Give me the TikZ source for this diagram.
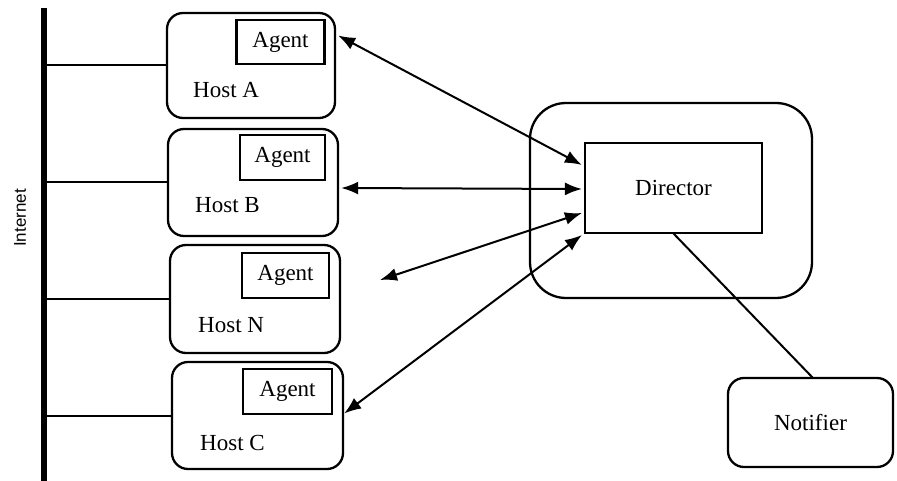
\documentclass[tikz,border=0pt]{standalone}
\usepackage{fontspec}
\setmainfont{Liberation Serif}
\newfontfamily\labelsans{Liberation Sans}
\usetikzlibrary{arrows.meta,calc}

\tikzset{
  hostbox/.style={draw, line width=2.3pt, rounded corners=16pt, inner sep=0pt},
  agentbox/.style={draw, line width=2.1pt, inner sep=0pt, minimum width=87pt, minimum height=45pt},
  plainbox/.style={draw, line width=2.1pt, inner sep=0pt},
  txt/.style={font=\fontsize{23}{26}\selectfont, inner sep=0pt},
  link/.style={line width=2pt},
  biarrow/.style={line width=2pt, {Latex[length=17pt,width=13pt]}-{Latex[length=17pt,width=13pt]}}
}

\begin{document}
\begin{tikzpicture}[x=1pt,y=-1pt]
  \useasboundingbox (0,0) rectangle (897,481);

  % backbone
  \coordinate (bartop) at (44,8);
  \coordinate (barbot) at (44,481);
  \draw[line width=6pt] (bartop) -- (barbot);
  \node[font=\labelsans\fontsize{17}{19}\selectfont, rotate=90, inner sep=0pt] (inet) at (20,218) {Internet};

  % hosts
  \node[hostbox, minimum width=168pt, minimum height=105pt] (hostA) at (251,65.5) {};
  \node[hostbox, minimum width=170pt, minimum height=107pt] (hostB) at (253,182.5) {};
  \node[hostbox, minimum width=170pt, minimum height=108pt] (hostN) at (255,299) {};
  \node[hostbox, minimum width=171pt, minimum height=107pt] (hostC) at (257.5,415.5) {};

  \node[agentbox, minimum width=88pt, minimum height=44pt] (agA) at (280.5,42) {};
  \node[agentbox, minimum width=85pt] (agB) at (282.5,157.5) {};
  \node[agentbox] (agN) at (285.5,275.5) {};
  \node[agentbox, minimum width=89pt] (agC) at (287.5,391.5) {};
  \node[txt] (agAt) at (agA) {Agent};
  \node[txt] (agBt) at (agB) {Agent};
  \node[txt] (agNt) at (agN) {Agent};
  \node[txt] (agCt) at (agC) {Agent};

  \node[txt, anchor=west] (hAt) at (193,90) {Host A};
  \node[txt, anchor=west] (hBt) at (195,205) {Host B};
  \node[txt, anchor=west] (hNt) at (198,325) {Host N};
  \node[txt, anchor=west] (hCt) at (200,443) {Host C};

  % host links to the backbone
  \foreach \h in {hostA,hostB,hostN,hostC}
    \draw[link] (\h.west) -- (\h.west -| bartop);

  % director and notifier
  \node[hostbox, rounded corners=36pt, minimum width=282pt, minimum height=195pt] (dirout) at (671,200.5) {};
  \node[plainbox, minimum width=177pt, minimum height=90pt] (dir) at (673.5,188) {};
  \node[txt] (dirt) at (dir) {Director};
  \node[hostbox, minimum width=165pt, minimum height=89pt] (notif) at (810.5,422.5) {};
  \node[txt] (notift) at (notif) {Notifier};

  \coordinate (dirfoot) at (673,233);
  \coordinate (notiftop) at (813,378);
  \draw[link] (dirfoot) -- (notiftop);

  % agent <-> director exchanges
  \coordinate (dA) at ($(dir.west)+(-2,-23)$);
  \coordinate (dB) at ($(dir.west)+(-2,1)$);
  \coordinate (dN) at ($(dir.west)+(-2,25)$);
  \coordinate (dC) at ($(dir.west)+(-2,47)$);
  \coordinate (eA) at ($(hostA.east)+(2,-30)$);
  \coordinate (eB) at ($(hostB.east)+(2,5.5)$);
  \coordinate (eN) at (380,280);
  \coordinate (eC) at ($(hostC.east)+(0,-2)$);
  \draw[biarrow] (eA) -- (dA);
  \draw[biarrow] (eB) -- (dB);
  \draw[biarrow] (eN) -- (dN);
  \draw[biarrow] (eC) -- (dC);
\end{tikzpicture}
\end{document}
